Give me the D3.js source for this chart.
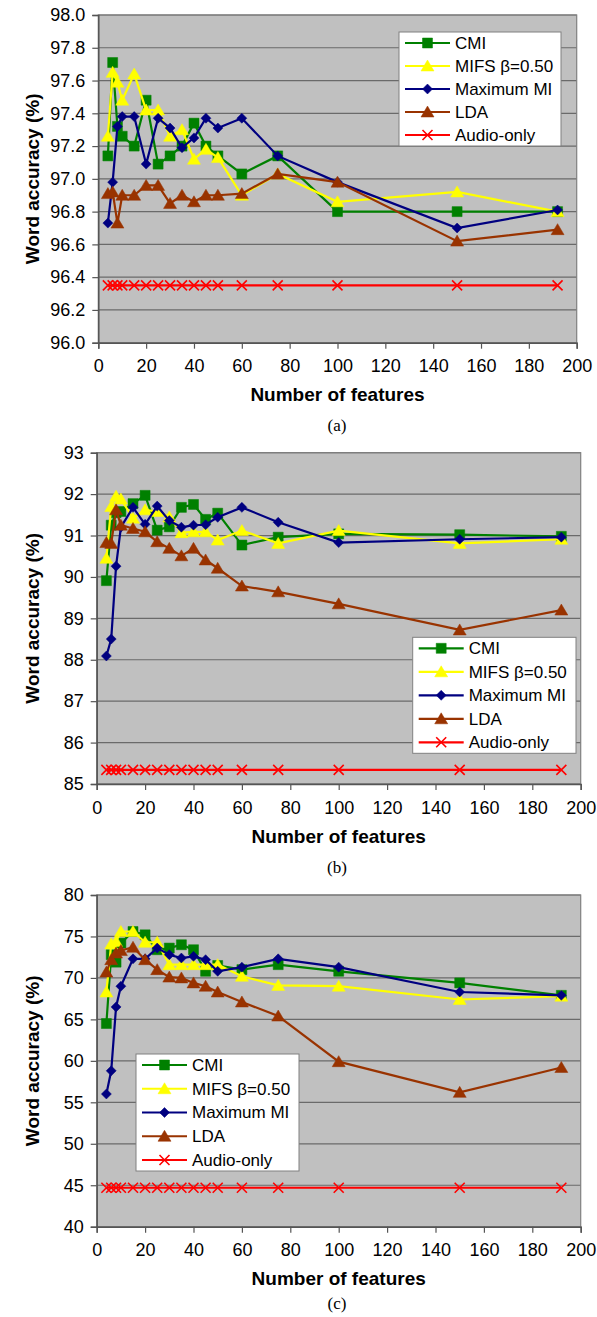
<!DOCTYPE html>
<html>
<head>
<meta charset="utf-8">
<script src="https://cdn.jsdelivr.net/npm/d3@7"></script>
<style>
  body { margin: 0; background: #fff; }
  svg { display: block; }
  text { font-family: "Liberation Sans", Arial, sans-serif; }
</style>
</head>
<body>
<svg id="chart" width="597" height="1317"></svg>
<script>
// number of features (x values shared by every series)
const features = [4, 6, 8, 10, 15, 20, 25, 30, 35, 40, 45, 50, 60, 75, 100, 150, 192];
const seriesNames = ["CMI", "MIFS \u03b2=0.50", "Maximum MI", "LDA", "Audio-only"];

// panel (a)
const cmiA   = [97.14, 97.71, 97.32, 97.26, 97.20, 97.48, 97.09, 97.14, 97.20, 97.34, 97.20, 97.14, 97.03, 97.14, 96.80, 96.80, 96.80];
const mifsA  = [97.26, 97.65, 97.59, 97.48, 97.64, 97.42, 97.42, 97.26, 97.30, 97.12, 97.18, 97.13, 96.90, 97.03, 96.86, 96.92, 96.80];
const maxmiA = [96.73, 96.98, 97.32, 97.38, 97.38, 97.09, 97.37, 97.31, 97.19, 97.25, 97.37, 97.31, 97.37, 97.14, 96.98, 96.70, 96.81];
const ldaA   = [96.91, 96.92, 96.73, 96.90, 96.90, 96.96, 96.96, 96.85, 96.90, 96.86, 96.90, 96.90, 96.91, 97.03, 96.98, 96.62, 96.69];
const audioA = [96.35, 96.35, 96.35, 96.35, 96.35, 96.35, 96.35, 96.35, 96.35, 96.35, 96.35, 96.35, 96.35, 96.35, 96.35, 96.35, 96.35];

// panel (b)
const cmiB   = [89.91, 91.25, 91.55, 91.58, 91.77, 91.97, 91.13, 91.21, 91.68, 91.75, 91.39, 91.54, 90.77, 90.96, 91.04, 91.02, 90.98];
const mifsB  = [90.45, 91.70, 91.95, 91.88, 91.42, 91.62, 91.58, 91.45, 91.07, 91.09, 91.09, 90.89, 91.12, 90.81, 91.12, 90.81, 90.91];
const maxmiB = [88.09, 88.50, 90.26, 91.20, 91.68, 91.27, 91.71, 91.36, 91.20, 91.25, 91.26, 91.44, 91.68, 91.32, 90.83, 90.91, 90.96];
const ldaB   = [90.83, 90.81, 91.62, 91.25, 91.17, 91.09, 90.85, 90.69, 90.51, 90.69, 90.41, 90.21, 89.78, 89.64, 89.35, 88.72, 89.20];
const audioB = [85.34, 85.34, 85.34, 85.34, 85.34, 85.34, 85.34, 85.34, 85.34, 85.34, 85.34, 85.34, 85.34, 85.34, 85.34, 85.34, 85.34];

// panel (c)
const cmiC   = [64.5, 72.8, 71.9, 74.2, 75.6, 75.2, 73.4, 73.6, 74.0, 73.4, 70.8, 71.5, 71.0, 71.6, 70.8, 69.4, 67.9];
const mifsC  = [68.3, 74.1, 74.4, 75.6, 75.6, 74.3, 74.3, 71.6, 71.6, 71.6, 71.6, 71.6, 70.2, 69.1, 69.0, 67.4, 67.8];
const maxmiC = [56.0, 58.8, 66.5, 69.0, 72.3, 72.3, 73.6, 72.8, 72.4, 72.6, 72.2, 70.8, 71.3, 72.3, 71.3, 68.3, 67.9];
const ldaC   = [70.7, 72.2, 73.0, 73.3, 73.7, 72.2, 71.0, 70.1, 70.0, 69.4, 69.0, 68.3, 67.1, 65.4, 59.9, 56.2, 59.2];
const audioC = [44.7, 44.7, 44.7, 44.7, 44.7, 44.7, 44.7, 44.7, 44.7, 44.7, 44.7, 44.7, 44.7, 44.7, 44.7, 44.7, 44.7];

const xTicks = [0, 20, 40, 60, 80, 100, 120, 140, 160, 180, 200];
const yTitle = "Word accuracy (%)";
const xTitle = "Number of features";

// marker shapes, Excel style
const square = { draw(c) { c.rect(-5, -5, 10, 10); } };
const triangle = { draw(c) { c.moveTo(0, -6); c.lineTo(6.5, 5); c.lineTo(-6.5, 5); c.closePath(); } };
const diamond = { draw(c) { c.moveTo(0, -5); c.lineTo(5, 0); c.lineTo(0, 5); c.lineTo(-5, 0); c.closePath(); } };
const cross = { draw(c) { c.moveTo(-5, -5); c.lineTo(5, 5); c.moveTo(5, -5); c.lineTo(-5, 5); } };

const styles = [
  { color: "#008000", fill: "#008000", shape: square },
  { color: "#ffff00", fill: "#ffff00", shape: triangle },
  { color: "#000080", fill: "#000080", shape: diamond },
  { color: "#993300", fill: "#993300", shape: triangle },
  { color: "#ff0000", fill: "none", shape: cross }
];

const panels = [
  { label: "(a)", series: [cmiA, mifsA, maxmiA, ldaA, audioA], domain: [96, 98], ticks: 10, fmt: ".1f",
    l: 98.3, r: 576.7, t: 15, b: 342.7, cap: 425, lg: { x: 399, y: 32, w: 162, h: 114 } },
  { label: "(b)", series: [cmiB, mifsB, maxmiB, ldaB, audioB], domain: [85, 93], ticks: 8, fmt: "d",
    l: 96.7, r: 580.7, t: 452.7, b: 784, cap: 867, lg: { x: 412.7, y: 637.3, w: 163.3, h: 116 } },
  { label: "(c)", series: [cmiC, mifsC, maxmiC, ldaC, audioC], domain: [40, 80], ticks: 8, fmt: "d",
    l: 96.7, r: 580.7, t: 895, b: 1226.7, cap: 1303, lg: { x: 136, y: 1054, w: 163, h: 117 } }
];

const svg = d3.select("#chart");

panels.forEach(p => {
  const x = d3.scaleLinear().domain([0, 200]).range([p.l, p.r]);
  const y = d3.scaleLinear().domain(p.domain).range([p.b, p.t]);
  const g = svg.append("g");

  // plot area
  g.append("rect")
    .attr("x", p.l).attr("y", p.t)
    .attr("width", p.r - p.l).attr("height", p.b - p.t)
    .attr("fill", "#c0c0c0");

  // horizontal gridlines
  g.append("g").selectAll("line")
    .data(y.ticks(p.ticks))
    .join("line")
    .attr("x1", p.l).attr("x2", p.r)
    .attr("y1", d => y(d)).attr("y2", d => y(d))
    .attr("stroke", "#6a6a6a").attr("stroke-width", 1.2);

  g.append("rect")
    .attr("x", p.l).attr("y", p.t)
    .attr("width", p.r - p.l).attr("height", p.b - p.t)
    .attr("fill", "none").attr("stroke", "#808080").attr("stroke-width", 1.2);

  // axes
  const yAxis = g.append("g")
    .attr("transform", `translate(${p.l},0)`)
    .call(d3.axisLeft(y).ticks(p.ticks).tickFormat(d3.format(p.fmt)).tickSize(6).tickPadding(7));
  const xAxis = g.append("g")
    .attr("transform", `translate(0,${p.b})`)
    .call(d3.axisBottom(x).tickValues(xTicks).tickSize(6).tickPadding(11));
  [yAxis, xAxis].forEach(a => {
    a.select(".domain").attr("stroke", "#555").attr("stroke-width", 1.5);
    a.selectAll(".tick line").attr("stroke", "#555").attr("stroke-width", 1.2);
    a.selectAll(".tick text").attr("font-size", 18).attr("fill", "#000");
  });

  // series
  const line = d3.line().x((d, i) => x(features[i])).y(d => y(d));
  p.series.forEach((vals, si) => {
    const s = styles[si];
    const sg = g.append("g");
    sg.append("path")
      .attr("d", line(vals))
      .attr("fill", "none").attr("stroke", s.color).attr("stroke-width", 2.2);
    sg.selectAll("path.m")
      .data(vals)
      .join("path")
      .attr("class", "m")
      .attr("d", d3.symbol().type(s.shape))
      .attr("transform", (d, i) => `translate(${x(features[i])},${y(d)})`)
      .attr("fill", s.fill)
      .attr("stroke", s.color)
      .attr("stroke-width", s.fill === "none" ? 1.6 : 0.5);
  });

  // legend
  const lg = g.append("g").attr("transform", `translate(${p.lg.x},${p.lg.y})`);
  lg.append("rect")
    .attr("width", p.lg.w).attr("height", p.lg.h)
    .attr("fill", "#fff").attr("stroke", "#808080").attr("stroke-width", 1);
  const rowH = (p.lg.h - 22) / 4;
  seriesNames.forEach((name, i) => {
    const s = styles[i];
    const cy = 11 + i * rowH;
    lg.append("line")
      .attr("x1", 6).attr("x2", 51).attr("y1", cy).attr("y2", cy)
      .attr("stroke", s.color).attr("stroke-width", 2.2);
    lg.append("path")
      .attr("d", d3.symbol().type(s.shape)())
      .attr("transform", `translate(28.5,${cy})`)
      .attr("fill", s.fill).attr("stroke", s.color)
      .attr("stroke-width", s.fill === "none" ? 1.6 : 0.5);
    lg.append("text")
      .attr("x", 56).attr("y", cy).attr("dy", "0.35em")
      .attr("font-size", 17).attr("fill", "#000")
      .text(name);
  });

  // axis titles
  g.append("text")
    .attr("transform", `translate(32,${(p.t + p.b) / 2}) rotate(-90)`)
    .attr("text-anchor", "middle").attr("dy", "0.35em")
    .attr("font-size", 19).attr("font-weight", "bold")
    .text(yTitle);
  g.append("text")
    .attr("x", (p.l + p.r) / 2).attr("y", p.b + 52).attr("dy", "0.35em")
    .attr("text-anchor", "middle")
    .attr("font-size", 19).attr("font-weight", "bold")
    .text(xTitle);

  // caption (serif, as in the paper)
  g.append("text")
    .attr("x", 337).attr("y", p.cap).attr("dy", "0.35em")
    .attr("text-anchor", "middle")
    .style("font-family", "'Liberation Serif', 'Times New Roman', serif")
    .attr("font-size", 17)
    .text(p.label);
});
</script>
</body>
</html>
